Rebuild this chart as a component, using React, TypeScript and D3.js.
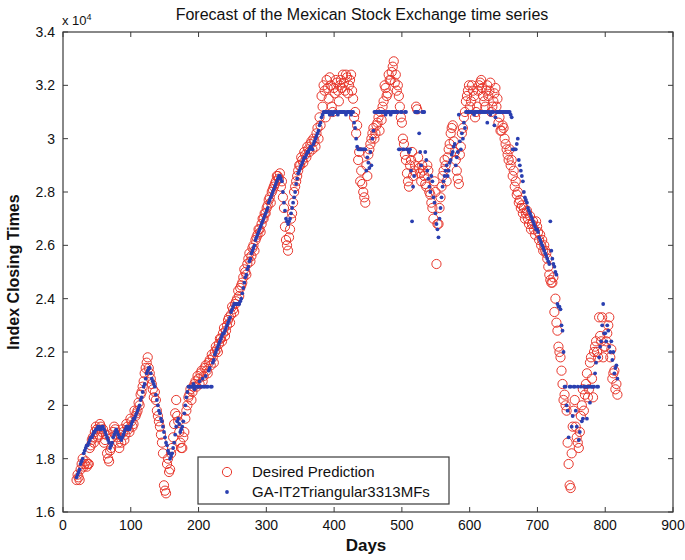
import React from "react";
import * as d3 from "d3";

// Values are in units of 10^4 (index points).
// Series A is read every 3 days starting at day 20; series B at the days in between (starting at day 21.5).
const DAY_START_A = 20;
const DAY_START_B = 21.5;
const DAY_STEP = 3;

const desiredA: number[] = [
  1.72, 1.73, 1.76, 1.80, 1.78, 1.77, 1.78, 1.85, 1.88, 1.90,
  1.91, 1.89, 1.92, 1.91, 1.87, 1.82, 1.79, 1.84, 1.90, 1.91,
  1.88, 1.84, 1.86, 1.90, 1.89, 1.92, 1.90, 1.94, 1.93, 1.96,
  1.98, 2.00, 2.05, 2.09, 2.14, 2.18, 2.12, 2.08, 2.03, 2.02,
  1.96, 1.92, 1.86, 1.70, 1.67, 1.80, 1.76, 1.84, 1.93, 2.02,
  1.94, 1.86, 1.84, 1.90, 1.98, 2.03, 2.06, 2.05, 2.08, 2.07,
  2.10, 2.12, 2.09, 2.14, 2.13, 2.16, 2.15, 2.18, 2.20, 2.21,
  2.23, 2.25, 2.27, 2.26, 2.30, 2.33, 2.34, 2.36, 2.38, 2.40,
  2.41, 2.45, 2.48, 2.50, 2.53, 2.57, 2.56, 2.60, 2.62, 2.64,
  2.66, 2.68, 2.70, 2.72, 2.75, 2.78, 2.80, 2.82, 2.84, 2.86,
  2.87, 2.84, 2.74, 2.62, 2.58, 2.66, 2.72, 2.80, 2.84, 2.88,
  2.90, 2.92, 2.95, 2.93, 2.96, 2.98, 2.96, 2.99, 3.02, 3.00,
  3.05, 3.12, 3.18, 3.22, 3.15, 3.20, 3.10, 3.17, 3.21, 3.14,
  3.22, 3.24, 3.18, 3.23, 3.20, 3.24, 3.15, 3.10, 3.05, 2.95,
  2.88, 2.80, 2.76, 2.86, 2.96, 3.00, 3.04, 3.02, 3.06, 3.03,
  3.07, 3.14, 3.19, 3.17, 3.22, 3.25, 3.29, 3.24, 3.20, 3.12,
  3.06, 2.98, 2.92, 2.84, 2.90, 2.95, 2.88, 3.12, 2.93, 2.87,
  2.90, 2.86, 2.82, 2.88, 2.79, 2.74, 2.84, 2.53, 2.68, 2.78,
  2.86, 2.92, 2.84, 2.96, 3.02, 3.05, 2.95, 2.88, 2.83, 2.97,
  3.04, 3.10, 3.16, 3.20, 3.14, 3.18, 3.08, 3.12, 3.20, 3.22,
  3.16, 3.12, 3.20, 3.18, 3.10, 3.14, 3.19, 3.15, 3.08, 3.03,
  3.04, 2.98, 2.94, 2.96, 2.92, 2.88, 2.84, 2.80, 2.77, 2.75,
  2.74, 2.72, 2.70, 2.71, 2.68, 2.66, 2.69, 2.65, 2.64, 2.62,
  2.60, 2.57, 2.52, 2.47, 2.46, 2.35, 2.31, 2.22, 2.18, 2.08,
  2.04, 1.98, 1.78, 1.69, 1.92, 2.02, 1.88, 1.84, 1.96, 2.06,
  2.04, 2.12, 2.06, 2.18, 2.03, 2.22, 2.20, 2.33, 2.24, 2.18,
  2.22, 2.27, 2.33, 2.21, 2.12, 2.06, 2.04,
];

const desiredB: number[] = [
  1.74, 1.72, 1.78, 1.77, 1.79, 1.78, 1.84, 1.87, 1.86, 1.92,
  1.88, 1.93, 1.90, 1.86, 1.89, 1.80, 1.83, 1.88, 1.92, 1.89,
  1.86, 1.89, 1.91, 1.87, 1.93, 1.91, 1.95, 1.92, 1.98, 1.97,
  2.01, 2.04, 2.07, 2.12, 2.16, 2.14, 2.10, 2.06, 2.05, 1.98,
  1.94, 1.89, 1.82, 1.68, 1.78, 1.75, 1.82, 1.88, 1.97, 1.96,
  1.90, 1.84, 1.88, 1.95, 2.00, 2.04, 2.02, 2.07, 2.09, 2.11,
  2.08, 2.13, 2.11, 2.15, 2.12, 2.17, 2.19, 2.16, 2.22, 2.20,
  2.25, 2.24, 2.29, 2.28, 2.32, 2.31, 2.37, 2.35, 2.39, 2.43,
  2.44, 2.46, 2.51, 2.49, 2.55, 2.54, 2.59, 2.58, 2.63, 2.66,
  2.65, 2.70, 2.72, 2.74, 2.77, 2.76, 2.81, 2.83, 2.86, 2.85,
  2.82, 2.78, 2.67, 2.60, 2.63, 2.70, 2.76, 2.82, 2.86, 2.90,
  2.93, 2.91, 2.94, 2.97, 2.95, 2.99, 3.00, 2.97, 3.04, 3.08,
  3.16, 3.20, 3.08, 3.19, 3.23, 3.12, 3.19, 3.22, 3.18, 3.20,
  3.19, 3.21, 3.24, 3.17, 3.22, 3.18, 3.08, 3.02, 2.92, 2.84,
  2.83, 2.78, 2.90, 2.94, 2.98, 3.02, 3.00, 3.05, 3.08, 3.10,
  3.12, 3.20, 3.16, 3.24, 3.22, 3.27, 3.21, 3.18, 3.16, 3.08,
  3.00, 2.94, 2.87, 2.82, 2.92, 2.86, 2.90, 3.11, 2.89, 2.84,
  2.88, 2.83, 2.90, 2.80, 2.76, 2.70, 2.80, 2.68, 2.74, 2.82,
  2.88, 2.90, 2.93, 2.98, 3.04, 2.99, 2.92, 2.85, 2.94, 3.02,
  3.08, 3.14, 3.18, 3.12, 3.20, 3.16, 3.10, 3.18, 3.21, 3.19,
  3.14, 3.18, 3.16, 3.21, 3.12, 3.17, 3.12, 3.06, 3.03, 3.05,
  3.00, 2.96, 2.92, 2.90, 2.86, 2.82, 2.79, 2.76, 2.74, 2.72,
  2.70, 2.73, 2.68, 2.66, 2.69, 2.64, 2.67, 2.62, 2.60, 2.58,
  2.58, 2.55, 2.49, 2.46, 2.48, 2.40, 2.28, 2.20, 2.13, 2.02,
  2.00, 1.86, 1.70, 1.82, 1.98, 1.92, 1.86, 1.90, 2.00, 1.98,
  2.08, 2.03, 2.16, 2.10, 2.20, 2.24, 2.18, 2.26, 2.33, 2.22,
  2.24, 2.30, 2.18, 2.10, 2.13, 2.08,
];

const predictedA: number[] = [
  1.73, 1.75, 1.78, 1.80, 1.83, 1.85, 1.86, 1.88, 1.89, 1.90,
  1.91, 1.92, 1.91, 1.92, 1.90, 1.88, 1.86, 1.85, 1.88, 1.90,
  1.90, 1.88, 1.87, 1.89, 1.91, 1.92, 1.91, 1.93, 1.95, 1.96,
  1.98, 2.00, 2.03, 2.07, 2.10, 2.13, 2.14, 2.10, 2.08, 2.04,
  2.00, 1.97, 1.94, 1.90, 1.86, 1.83, 1.80, 1.82, 1.86, 1.92,
  1.95, 1.90, 1.92, 1.97, 2.03, 2.07, 2.07, 2.07, 2.06, 2.07,
  2.07, 2.07, 2.10, 2.07, 2.07, 2.13, 2.07, 2.16, 2.19, 2.21,
  2.23, 2.25, 2.27, 2.28, 2.30, 2.32, 2.35, 2.37, 2.38, 2.38,
  2.38, 2.40, 2.44, 2.48, 2.51, 2.54, 2.57, 2.59, 2.62, 2.64,
  2.66, 2.68, 2.70, 2.72, 2.74, 2.77, 2.79, 2.81, 2.83, 2.85,
  2.86, 2.84, 2.76, 2.70, 2.68, 2.70, 2.74, 2.78, 2.83, 2.87,
  2.89, 2.91, 2.93, 2.94, 2.95, 2.97, 2.96, 2.99, 3.01, 3.03,
  3.06, 3.09, 3.10, 3.10, 3.10, 3.10, 3.09, 3.10, 3.10, 3.10,
  3.10, 3.10, 3.10, 3.10, 3.10, 3.09, 3.10, 3.04, 2.97, 2.96,
  2.96, 2.96, 2.96, 2.93, 2.89, 2.90, 3.03, 3.10, 3.10, 3.10,
  3.10, 3.10, 3.09, 3.10, 3.10, 3.10, 3.10, 3.10, 3.10, 2.96,
  3.10, 2.96, 3.10, 2.96, 2.96, 2.69, 2.86, 3.10, 3.10, 2.95,
  3.10, 3.10, 2.92, 2.85, 2.80, 2.84, 2.76, 2.68, 2.63, 2.74,
  2.82, 2.86, 2.90, 2.88, 2.92, 2.95, 2.98, 2.93, 3.09, 2.96,
  3.00, 3.04, 3.10, 3.10, 3.10, 3.10, 3.10, 3.10, 3.10, 3.10,
  3.10, 3.10, 3.06, 3.10, 3.10, 3.10, 3.08, 3.10, 3.10, 3.10,
  3.10, 3.10, 3.10, 3.10, 3.08, 2.96, 2.96, 3.00, 2.90, 2.86,
  2.80, 2.77, 2.74, 2.72, 2.70, 2.68, 2.66, 2.65, 2.62, 2.60,
  2.58, 2.56, 2.54, 2.69, 2.55, 2.52, 2.49, 2.37, 2.36, 2.28,
  2.07, 2.00, 1.88, 2.07, 1.96, 2.07, 1.92, 1.87, 2.07, 1.95,
  2.07, 1.95, 2.07, 2.07, 2.07, 2.12, 2.07, 2.18, 2.24, 2.38,
  2.27, 2.30, 2.22, 2.24, 2.20, 2.14, 2.10,
];

const predictedB: number[] = [
  1.74, 1.76, 1.79, 1.82, 1.84, 1.85, 1.87, 1.88, 1.90, 1.91,
  1.92, 1.91, 1.92, 1.91, 1.89, 1.87, 1.84, 1.86, 1.89, 1.91,
  1.89, 1.88, 1.88, 1.90, 1.92, 1.91, 1.92, 1.94, 1.95, 1.97,
  1.99, 2.02, 2.05, 2.08, 2.12, 2.14, 2.12, 2.09, 2.07, 2.02,
  1.98, 1.95, 1.92, 1.88, 1.85, 1.82, 1.81, 1.84, 1.89, 1.94,
  1.93, 1.91, 1.94, 2.00, 2.05, 2.07, 2.07, 2.08, 2.07, 2.07,
  2.09, 2.07, 2.07, 2.11, 2.07, 2.14, 2.07, 2.17, 2.20, 2.22,
  2.24, 2.26, 2.27, 2.29, 2.31, 2.33, 2.36, 2.38, 2.38, 2.38,
  2.39, 2.42, 2.46, 2.49, 2.52, 2.55, 2.58, 2.60, 2.63, 2.65,
  2.67, 2.69, 2.71, 2.73, 2.76, 2.78, 2.80, 2.82, 2.84, 2.86,
  2.85, 2.80, 2.73, 2.69, 2.69, 2.72, 2.76, 2.80, 2.85, 2.88,
  2.90, 2.92, 2.93, 2.95, 2.96, 2.97, 2.98, 3.00, 3.02, 3.05,
  3.08, 3.10, 3.10, 3.10, 3.09, 3.10, 3.10, 3.10, 3.09, 3.10,
  3.10, 3.10, 3.09, 3.10, 3.10, 3.10, 3.06, 3.00, 2.96, 2.96,
  2.96, 2.96, 2.88, 2.91, 2.95, 3.00, 3.10, 3.10, 3.10, 3.10,
  3.10, 3.10, 3.10, 3.10, 3.09, 3.10, 3.10, 3.10, 2.96, 3.10,
  2.96, 3.10, 2.96, 2.95, 2.88, 2.82, 3.10, 3.10, 3.02, 2.90,
  3.10, 2.95, 2.88, 2.82, 2.86, 2.78, 2.72, 2.66, 2.70, 2.78,
  2.84, 2.88, 2.86, 2.91, 2.94, 2.97, 2.90, 2.95, 2.99, 3.02,
  3.06, 3.10, 3.10, 3.10, 3.10, 3.09, 3.10, 3.10, 3.10, 3.10,
  3.10, 3.10, 3.10, 3.09, 3.10, 3.05, 3.10, 3.10, 3.10, 3.10,
  3.10, 3.10, 3.10, 3.09, 2.96, 2.96, 2.98, 2.92, 2.88, 2.84,
  2.78, 2.76, 2.73, 2.71, 2.69, 2.67, 2.66, 2.63, 2.61, 2.59,
  2.57, 2.55, 2.53, 2.58, 2.53, 2.50, 2.38, 2.37, 2.30, 2.20,
  2.07, 1.98, 2.07, 1.92, 2.07, 1.98, 2.07, 1.90, 1.94, 2.07,
  2.07, 2.07, 2.01, 2.07, 2.07, 2.16, 2.07, 2.22, 2.30, 2.27,
  2.24, 2.28, 2.20, 2.17, 2.12, 2.15,
];

const xTicks = [0, 100, 200, 300, 400, 500, 600, 700, 800, 900];
const yTicks = [1.6, 1.8, 2, 2.2, 2.4, 2.6, 2.8, 3, 3.2, 3.4];
const seriesNames = ["Desired Prediction", "GA-IT2Triangular3313MFs"];
const titleText = "Forecast of the Mexican Stock Exchange time series";

const W = 685;
const H = 560;
const M = { left: 63, right: 673, top: 32, bottom: 512 };
const FONT = "'Liberation Sans', Arial, Helvetica, sans-serif";
const RED = "#e8372c";
const BLUE = "#2a3fb0";
const AXIS = "#3a3a3a";
const R_CIRCLE = 4.6;
const R_DOT = 1.9;

type Pt = { day: number; v: number };

function toPoints(vals: number[], start: number): Pt[] {
  return vals.map((v, i) => ({ day: start + i * DAY_STEP, v }));
}

export default function App() {
  const x = d3.scaleLinear().domain([0, 900]).range([M.left, M.right]);
  const y = d3.scaleLinear().domain([1.6, 3.4]).range([M.bottom, M.top]);
  const tickLen = 5;
  const fmt = (v: number) => String(+v.toFixed(1));

  const desired = [...toPoints(desiredA, DAY_START_A), ...toPoints(desiredB, DAY_START_B)].sort(
    (a, b) => a.day - b.day
  );
  const predicted = [
    ...toPoints(predictedA, DAY_START_A),
    ...toPoints(predictedB, DAY_START_B),
  ].sort((a, b) => a.day - b.day);

  return (
    <svg
      width={W}
      height={H}
      style={{ position: "absolute", left: 0, top: 0, background: "#fff" }}
      fontFamily={FONT}
    >
      <rect x={0} y={0} width={W} height={H} fill="#fff" />
      <g>
        {desired.map((p, i) => (
          <circle
            key={"d" + i}
            cx={x(p.day)}
            cy={y(p.v)}
            r={R_CIRCLE}
            fill="none"
            stroke={RED}
            strokeWidth={1}
          />
        ))}
        {predicted.map((p, i) => (
          <circle key={"p" + i} cx={x(p.day)} cy={y(p.v)} r={R_DOT} fill={BLUE} />
        ))}
      </g>
      <rect
        x={M.left}
        y={M.top}
        width={M.right - M.left}
        height={M.bottom - M.top}
        fill="none"
        stroke={AXIS}
        strokeWidth={1.2}
      />
      {xTicks.map((t) => (
        <g key={"xt" + t}>
          <line x1={x(t)} x2={x(t)} y1={M.bottom} y2={M.bottom - tickLen} stroke={AXIS} />
          <line x1={x(t)} x2={x(t)} y1={M.top} y2={M.top + tickLen} stroke={AXIS} />
          <text x={x(t)} y={M.bottom + 18} textAnchor="middle" fontSize={14} fill="#111">
            {t}
          </text>
        </g>
      ))}
      {yTicks.map((t) => (
        <g key={"yt" + t}>
          <line x1={M.left} x2={M.left + tickLen} y1={y(t)} y2={y(t)} stroke={AXIS} />
          <line x1={M.right} x2={M.right - tickLen} y1={y(t)} y2={y(t)} stroke={AXIS} />
          <text x={55} y={y(t) + 5} textAnchor="end" fontSize={14} fill="#111">
            {fmt(t)}
          </text>
        </g>
      ))}
      <text x={62} y={25} fontSize={13} fill="#111">
        x 10<tspan dy={-5} fontSize={9}>4</tspan>
      </text>
      <text x={362} y={20} textAnchor="middle" fontSize={16} fill="#111">
        {titleText}
      </text>
      <text x={366} y={551} textAnchor="middle" fontSize={17} fontWeight="bold" fill="#111">
        Days
      </text>
      <text
        transform={`translate(19, ${(M.top + M.bottom) / 2}) rotate(-90)`}
        textAnchor="middle"
        fontSize={16}
        fontWeight="bold"
        fill="#111"
      >
        Index Closing Times
      </text>
      <g>
        <rect x={198} y={457} width={251} height={47} fill="#fff" stroke={AXIS} strokeWidth={1.2} />
        <circle cx={227} cy={472} r={R_CIRCLE} fill="none" stroke={RED} strokeWidth={1} />
        <circle cx={227} cy={492} r={R_DOT} fill={BLUE} />
        <text x={252} y={477} fontSize={15} fill="#111">{seriesNames[0]}</text>
        <text x={252} y={497} fontSize={15} fill="#111">{seriesNames[1]}</text>
      </g>
    </svg>
  );
}
